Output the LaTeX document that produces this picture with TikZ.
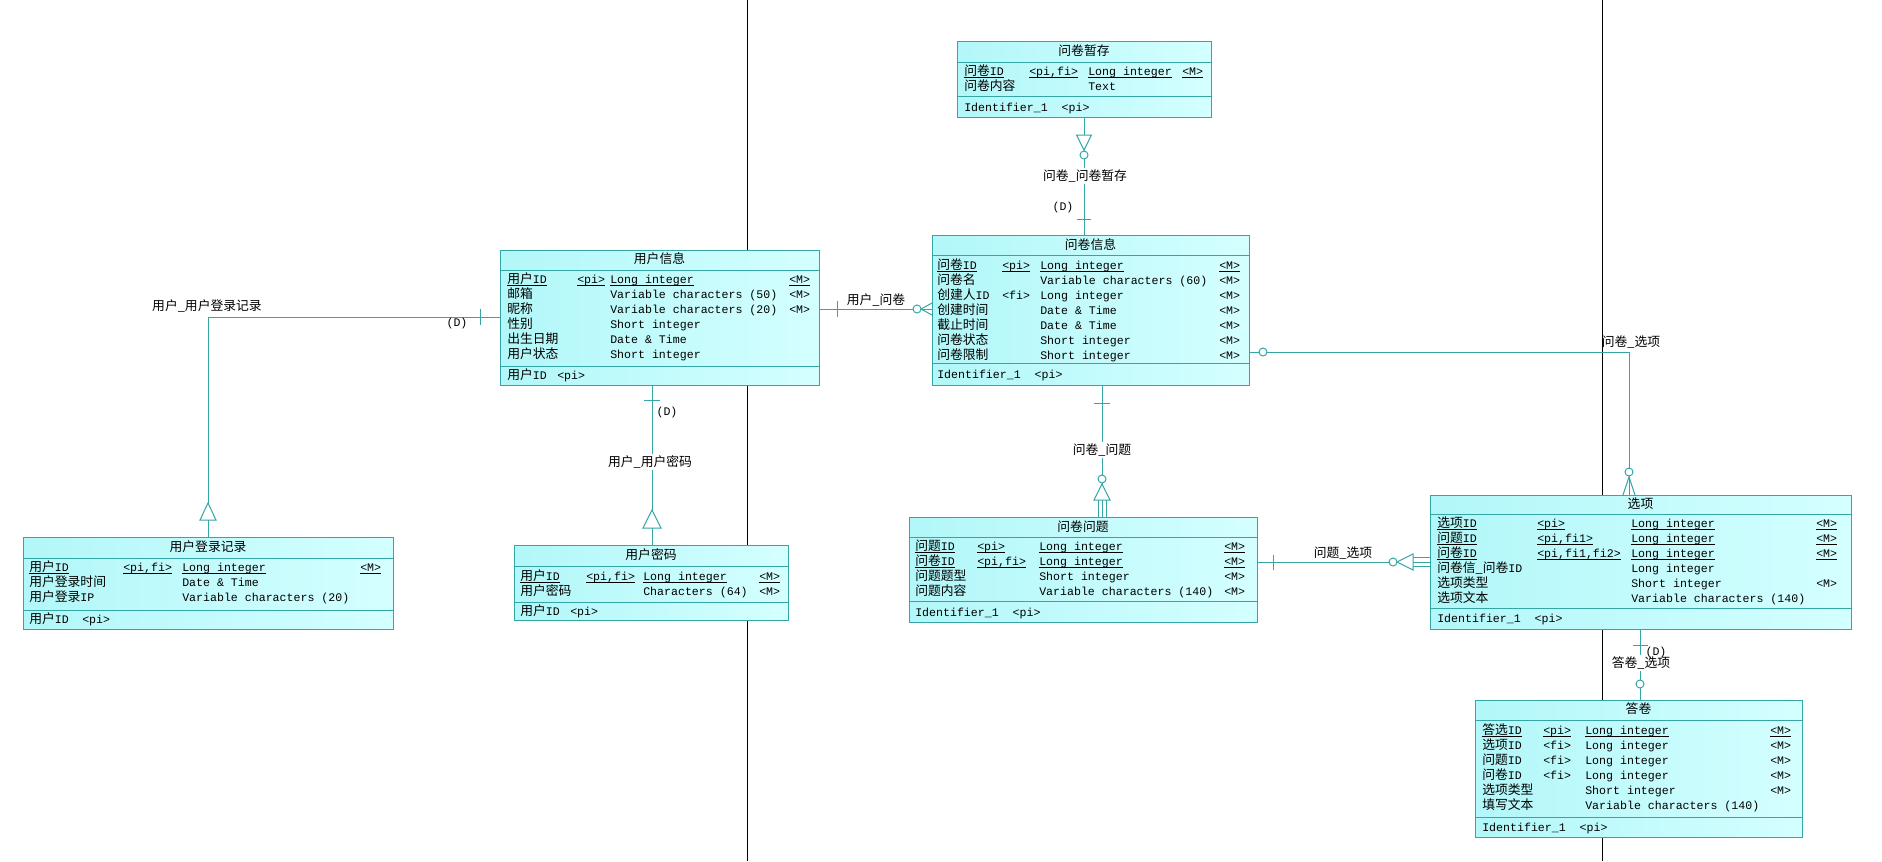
\documentclass[tikz,border=0pt]{standalone}
\usepackage{fontspec}
\setmainfont{Liberation Mono}
\newfontfamily\cjkfont{Noto Sans CJK SC}
\usetikzlibrary{fit}

% CJK text inside the monospaced tables
\newcommand\zht[1]{{\cjkfont\fontsize{9.6pt}{12pt}\selectfont #1}}
% underline placed just under the baseline (primary identifier columns)
\newcommand\uln[1]{\setbox0\hbox{#1}\rlap{\rule[-1.6pt]{\wd0}{0.5pt}}\box0}
% column positions of the current table
\newcommand\setcols[4]{\def\colA{#1}\def\colB{#2}\def\colC{#3}\def\colD{#4}}
% one attribute row: entity, row id, y, name, stereotype, type, mandatory flag
\newcommand\attrrow[7]{%
  \node[txt] (#1-#2a) at (\colA,#3+4.5) {#4};
  \node[txt] (#1-#2b) at (\colB,#3+4.5) {#5};
  \node[txt] (#1-#2c) at (\colC,#3+4.5) {#6};
  \node[txt] (#1-#2d) at (\colD,#3+4.5) {#7};}

\definecolor{erline}{RGB}{52,166,166}
\definecolor{erfillA}{RGB}{178,247,249}
\definecolor{erfillB}{RGB}{212,255,255}

\tikzset{
  entity/.style={draw=erline, line width=0.75pt, left color=erfillA, right color=erfillB, inner sep=0pt},
  sep/.style={draw=erline, line width=0.75pt},
  link/.style={draw=erline, line width=0.75pt},
  txt/.style={anchor=base west, inner sep=0pt, font=\fontsize{8.7pt}{11pt}\selectfont},
  ttl/.style={anchor=base, inner sep=0pt},
  lbl/.style={inner sep=1pt, font=\fontsize{8.7pt}{11pt}\selectfont},
  whitelbl/.style={lbl, fill=white},
}

\begin{document}
\begin{tikzpicture}[x=0.75pt, y=-0.75pt]
\fill[white] (0,0) rectangle (1882,861);
\useasboundingbox (0,0) rectangle (1882,861);

% page separators
\draw[black, line width=0.75pt] (747,0) -- (747,861);
\draw[black, line width=0.75pt] (1602,0) -- (1602,861);

% ---------- entity boxes (positions only, used by the links) ----------
\path (957,41) coordinate (wjzcA) (1211,117) coordinate (wjzcB)
      (932,235) coordinate (wjxxA) (1249,385) coordinate (wjxxB)
      (500,250) coordinate (yhxxA) (819,385) coordinate (yhxxB)
      (23,537) coordinate (yhdlA) (393,629) coordinate (yhdlB)
      (514,545) coordinate (yhmmA) (788,620) coordinate (yhmmB)
      (909,517) coordinate (wjwtA) (1257,622) coordinate (wjwtB)
      (1430,495) coordinate (xxA) (1851,629) coordinate (xxB)
      (1475,700) coordinate (djA) (1802,837) coordinate (djB);

\node[inner sep=0pt, fit=(wjzcA)(wjzcB)] (wjzc) {};
\node[inner sep=0pt, fit=(wjxxA)(wjxxB)] (wjxx) {};
\node[inner sep=0pt, fit=(yhxxA)(yhxxB)] (yhxx) {};
\node[inner sep=0pt, fit=(yhdlA)(yhdlB)] (yhdl) {};
\node[inner sep=0pt, fit=(yhmmA)(yhmmB)] (yhmm) {};
\node[inner sep=0pt, fit=(wjwtA)(wjwtB)] (wjwt) {};
\node[inner sep=0pt, fit=(xxA)(xxB)] (xx) {};
\node[inner sep=0pt, fit=(djA)(djB)] (dj) {};

% ---------- links ----------
% 问卷_问卷暂存
\draw[link] (wjzc.south) -- (wjzc.south |- wjxx.north);
\draw[link, fill=white] (1076.5,135) -- (1091.5,135) -- (1084,150) -- cycle;
\draw[link, fill=white] (1084,155) circle[radius=3pt];
\draw[link] (1077,219) -- (1091,219);
\node[whitelbl] (l1) at (1085,176) {\zht{问卷\_问卷暂存}};
\node[lbl] (d1) at (1063,207) {(D)};

% 问卷_问题
\draw[link] (wjxx.south -| 1102,0) -- (wjwt.north -| 1102,0);
\draw[link] (1094,403) -- (1110,403);
\node[whitelbl] (l2) at (1102,450) {\zht{问卷\_问题}};
\draw[link, fill=white] (1102,484) -- (1094,500) -- (1110,500) -- cycle;
\draw[link, fill=white] (1102,479) circle[radius=3pt];
\draw[link] (1098,500) -- (1098,517) (1106,500) -- (1106,517);

% 用户_问卷
\draw[link] (yhxx.east |- 0,309) -- (wjxx.west |- 0,309);
\draw[link] (837,301) -- (837,317);
\node[lbl] (l3) at (876,300) {\zht{用户\_问卷}};
\draw[link, fill=white] (917,309) circle[radius=3pt];
\draw[link] (932,303) -- (921,309) -- (932,315);

% 问卷_选项
\draw[link] (wjxx.east |- 0,352) -| (xx.north -| 1629,0);
\draw[link, fill=white] (1263,352) circle[radius=3pt];
\node[lbl] (l4) at (1631,342) {\zht{问卷\_选项}};
\draw[link, fill=white] (1629,472) circle[radius=3pt];
\draw[link] (1623,495) -- (1629,477) -- (1635,495);

% 问题_选项
\draw[link] (wjwt.east |- 0,562) -- (xx.west |- 0,562);
\draw[link] (1273,555) -- (1273,570);
\node[lbl] (l5) at (1343,553) {\zht{问题\_选项}};
\draw[link, fill=white] (1397,562) -- (1413,554) -- (1413,570) -- cycle;
\draw[link, fill=white] (1393,562) circle[radius=3pt];
\draw[link] (1413,557.5) -- (1430,557.5) (1413,566.5) -- (1430,566.5);

% 答卷_选项
\draw[link] (xx.south -| 1640,0) -- (dj.north -| 1640,0);
\draw[link] (1633,645) -- (1648,645);
\node[whitelbl] (l6) at (1641,663) {\zht{答卷\_选项}};
\node[lbl] (d6) at (1656,652) {(D)};
\draw[link, fill=white] (1640,684) circle[radius=3pt];

% 用户_用户登录记录
\draw[link] (yhxx.west |- 0,317) -| (yhdl.north -| 208,0);
\draw[link] (480,309) -- (480,325);
\node[lbl] (d7) at (457,323) {(D)};
\node[lbl] (l7) at (207,306) {\zht{用户\_用户登录记录}};
\draw[link, fill=white] (208,503) -- (200,520) -- (216,520) -- cycle;

% 用户_用户密码
\draw[link] (yhxx.south -| 652,0) -- (yhmm.north -| 652,0);
\draw[link] (644,400) -- (660,400);
\node[lbl] (d8) at (667,412) {(D)};
\node[whitelbl] (l8) at (650,462) {\zht{用户\_用户密码}};
\draw[link, fill=white] (652,510) -- (643,528) -- (661,528) -- cycle;

% ---------- entity tables ----------
% 问卷暂存
\node[entity, fit=(wjzcA)(wjzcB)] (wjzcbox) {};
\draw[sep] (wjzc.west |- 0,62) -- (wjzc.east |- 0,62);
\draw[sep] (wjzc.west |- 0,96) -- (wjzc.east |- 0,96);
\node[ttl] (wjzc-t) at (wjzc.north |- 0,55.5) {\zht{问卷暂存}};
\setcols{964}{1029}{1088}{1182}
\attrrow{wjzc}{1}{71}{\uln{\zht{问卷}ID}}{\uln{<pi,fi>}}{\uln{Long integer}}{\uln{<M>}}
\attrrow{wjzc}{2}{86}{\zht{问卷内容}}{}{Text}{}
\node[txt] (wjzc-id) at (964,111.5) {Identifier\_1~~<pi>};

% 问卷信息
\node[entity, fit=(wjxxA)(wjxxB)] (wjxxbox) {};
\draw[sep] (wjxx.west |- 0,255) -- (wjxx.east |- 0,255);
\draw[sep] (wjxx.west |- 0,363) -- (wjxx.east |- 0,363);
\node[ttl] (wjxx-t) at (wjxx.north |- 0,249.5) {\zht{问卷信息}};
\setcols{937}{1002}{1040}{1219}
\attrrow{wjxx}{1}{265}{\uln{\zht{问卷}ID}}{\uln{<pi>}}{\uln{Long integer}}{\uln{<M>}}
\attrrow{wjxx}{2}{280}{\zht{问卷名}}{}{Variable characters (60)}{<M>}
\attrrow{wjxx}{3}{295}{\zht{创建人}ID}{<fi>}{Long integer}{<M>}
\attrrow{wjxx}{4}{310}{\zht{创建时间}}{}{Date \& Time}{<M>}
\attrrow{wjxx}{5}{325}{\zht{截止时间}}{}{Date \& Time}{<M>}
\attrrow{wjxx}{6}{340}{\zht{问卷状态}}{}{Short integer}{<M>}
\attrrow{wjxx}{7}{355}{\zht{问卷限制}}{}{Short integer}{<M>}
\node[txt] (wjxx-id) at (937,378.5) {Identifier\_1~~<pi>};

% 用户信息
\node[entity, fit=(yhxxA)(yhxxB)] (yhxxbox) {};
\draw[sep] (yhxx.west |- 0,270) -- (yhxx.east |- 0,270);
\draw[sep] (yhxx.west |- 0,366) -- (yhxx.east |- 0,366);
\node[ttl] (yhxx-t) at (yhxx.north |- 0,263.5) {\zht{用户信息}};
\setcols{507}{577}{610}{789}
\attrrow{yhxx}{1}{279}{\uln{\zht{用户}ID}}{\uln{<pi>}}{\uln{Long integer}}{\uln{<M>}}
\attrrow{yhxx}{2}{294}{\zht{邮箱}}{}{Variable characters (50)}{<M>}
\attrrow{yhxx}{3}{309}{\zht{昵称}}{}{Variable characters (20)}{<M>}
\attrrow{yhxx}{4}{324}{\zht{性别}}{}{Short integer}{}
\attrrow{yhxx}{5}{339}{\zht{出生日期}}{}{Date \& Time}{}
\attrrow{yhxx}{6}{354}{\zht{用户状态}}{}{Short integer}{}
\node[txt] (yhxx-id) at (507,379.5) {\zht{用户}ID};
\node[txt] (yhxx-ip) at (557,379.5) {<pi>};

% 用户登录记录
\node[entity, fit=(yhdlA)(yhdlB)] (yhdlbox) {};
\draw[sep] (yhdl.west |- 0,558) -- (yhdl.east |- 0,558);
\draw[sep] (yhdl.west |- 0,610) -- (yhdl.east |- 0,610);
\node[ttl] (yhdl-t) at (yhdl.north |- 0,551.5) {\zht{用户登录记录}};
\setcols{29}{123}{182}{360}
\attrrow{yhdl}{1}{567}{\uln{\zht{用户}ID}}{\uln{<pi,fi>}}{\uln{Long integer}}{\uln{<M>}}
\attrrow{yhdl}{2}{582}{\zht{用户登录时间}}{}{Date \& Time}{}
\attrrow{yhdl}{3}{597}{\zht{用户登录}IP}{}{Variable characters (20)}{}
\node[txt] (yhdl-id) at (29,623.5) {\zht{用户}ID};
\node[txt] (yhdl-ip) at (82,623.5) {<pi>};

% 用户密码
\node[entity, fit=(yhmmA)(yhmmB)] (yhmmbox) {};
\draw[sep] (yhmm.west |- 0,566) -- (yhmm.east |- 0,566);
\draw[sep] (yhmm.west |- 0,602) -- (yhmm.east |- 0,602);
\node[ttl] (yhmm-t) at (yhmm.north |- 0,559.5) {\zht{用户密码}};
\setcols{520}{586}{643}{759}
\attrrow{yhmm}{1}{576}{\uln{\zht{用户}ID}}{\uln{<pi,fi>}}{\uln{Long integer}}{\uln{<M>}}
\attrrow{yhmm}{2}{591}{\zht{用户密码}}{}{Characters (64)}{<M>}
\node[txt] (yhmm-id) at (520,615.5) {\zht{用户}ID};
\node[txt] (yhmm-ip) at (570,615.5) {<pi>};

% 问卷问题
\node[entity, fit=(wjwtA)(wjwtB)] (wjwtbox) {};
\draw[sep] (wjwt.west |- 0,537) -- (wjwt.east |- 0,537);
\draw[sep] (wjwt.west |- 0,601) -- (wjwt.east |- 0,601);
\node[ttl] (wjwt-t) at (wjwt.north |- 0,531.5) {\zht{问卷问题}};
\setcols{915}{977}{1039}{1224}
\attrrow{wjwt}{1}{546}{\uln{\zht{问题}ID}}{\uln{<pi>}}{\uln{Long integer}}{\uln{<M>}}
\attrrow{wjwt}{2}{561}{\uln{\zht{问卷}ID}}{\uln{<pi,fi>}}{\uln{Long integer}}{\uln{<M>}}
\attrrow{wjwt}{3}{576}{\zht{问题题型}}{}{Short integer}{<M>}
\attrrow{wjwt}{4}{591}{\zht{问题内容}}{}{Variable characters (140)}{<M>}
\node[txt] (wjwt-id) at (915,616.5) {Identifier\_1~~<pi>};

% 选项
\node[entity, fit=(xxA)(xxB)] (xxbox) {};
\draw[sep] (xx.west |- 0,514) -- (xx.east |- 0,514);
\draw[sep] (xx.west |- 0,608) -- (xx.east |- 0,608);
\node[ttl] (xx-t) at (xx.north |- 0,508.5) {\zht{选项}};
\setcols{1437}{1537}{1631}{1816}
\attrrow{xx}{1}{523}{\uln{\zht{选项}ID}}{\uln{<pi>}}{\uln{Long integer}}{\uln{<M>}}
\attrrow{xx}{2}{538}{\uln{\zht{问题}ID}}{\uln{<pi,fi1>}}{\uln{Long integer}}{\uln{<M>}}
\attrrow{xx}{3}{553}{\uln{\zht{问卷}ID}}{\uln{<pi,fi1,fi2>}}{\uln{Long integer}}{\uln{<M>}}
\attrrow{xx}{4}{568}{\zht{问卷信\_问卷}ID}{}{Long integer}{}
\attrrow{xx}{5}{583}{\zht{选项类型}}{}{Short integer}{<M>}
\attrrow{xx}{6}{598}{\zht{选项文本}}{}{Variable characters (140)}{}
\node[txt] (xx-id) at (1437,622.5) {Identifier\_1~~<pi>};

% 答卷
\node[entity, fit=(djA)(djB)] (djbox) {};
\draw[sep] (dj.west |- 0,720) -- (dj.east |- 0,720);
\draw[sep] (dj.west |- 0,817) -- (dj.east |- 0,817);
\node[ttl] (dj-t) at (dj.north |- 0,713.5) {\zht{答卷}};
\setcols{1482}{1543}{1585}{1770}
\attrrow{dj}{1}{730}{\uln{\zht{答选}ID}}{\uln{<pi>}}{\uln{Long integer}}{\uln{<M>}}
\attrrow{dj}{2}{745}{\zht{选项}ID}{<fi>}{Long integer}{<M>}
\attrrow{dj}{3}{760}{\zht{问题}ID}{<fi>}{Long integer}{<M>}
\attrrow{dj}{4}{775}{\zht{问卷}ID}{<fi>}{Long integer}{<M>}
\attrrow{dj}{5}{790}{\zht{选项类型}}{}{Short integer}{<M>}
\attrrow{dj}{6}{805}{\zht{填写文本}}{}{Variable characters (140)}{}
\node[txt] (dj-id) at (1482,831.5) {Identifier\_1~~<pi>};
\end{tikzpicture}
\end{document}
